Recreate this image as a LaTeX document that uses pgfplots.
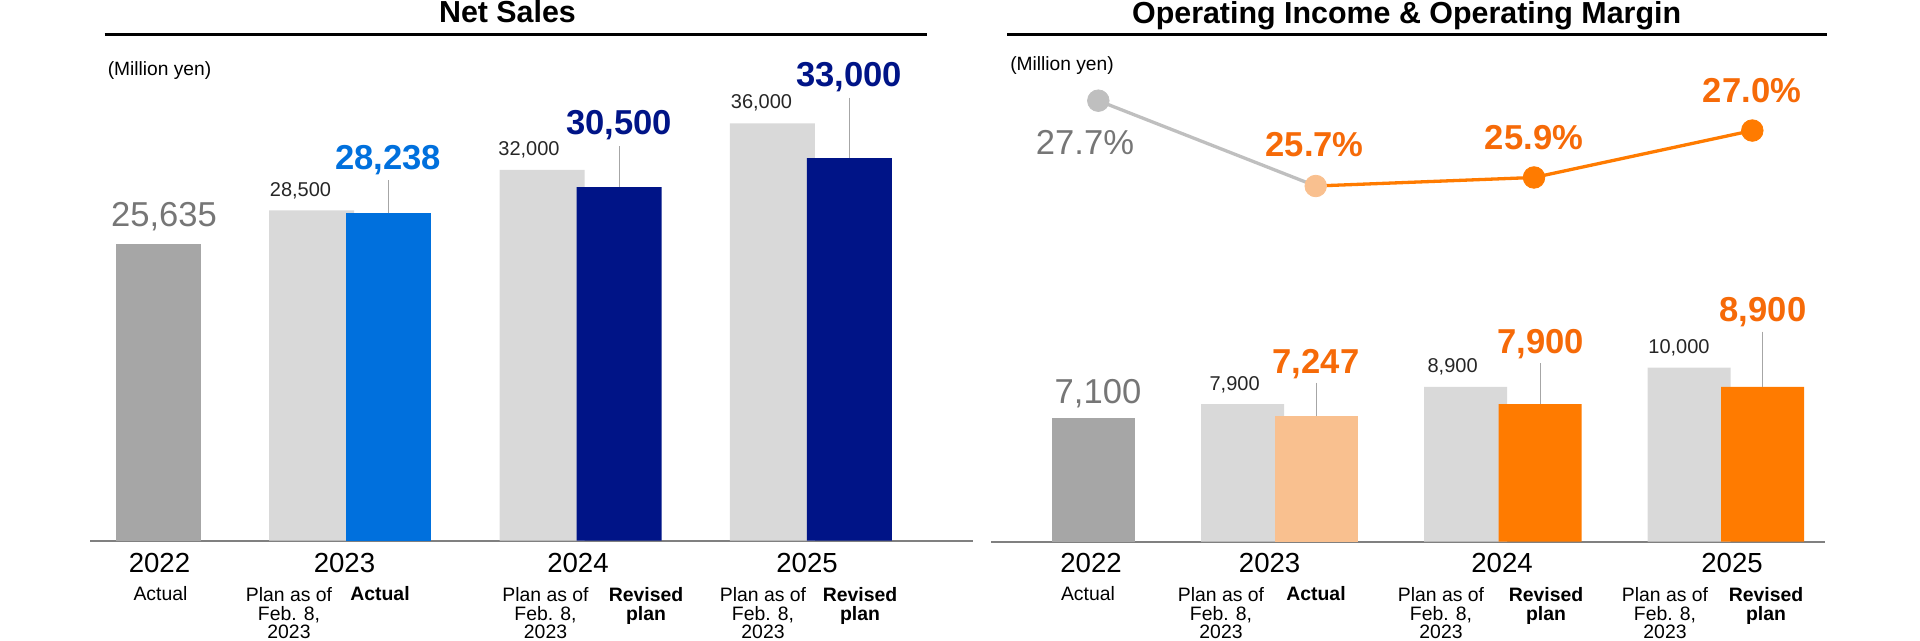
\documentclass[border=0pt]{standalone}
\usepackage{fontspec}
\setmainfont{Liberation Sans}
\usepackage{pgfplots}
\pgfplotsset{compat=1.18}

\definecolor{actgray}{HTML}{A6A6A6}
\definecolor{plangray}{HTML}{D9D9D9}
\definecolor{actblue}{HTML}{0070DD}
\definecolor{navy}{HTML}{001487}
\definecolor{biggray}{HTML}{767676}
\definecolor{smalltxt}{HTML}{262626}
\definecolor{leadgray}{HTML}{A6A6A6}
\definecolor{basegray}{HTML}{808080}
\definecolor{orangebar}{HTML}{FF7B00}
\definecolor{orangetxt}{HTML}{F66A08}
\definecolor{lightorange}{HTML}{F9C08F}
\definecolor{linegray}{HTML}{BFBFBF}

\tikzset{
  bignum/.style={anchor=base, inner sep=0pt, font=\fontsize{17.3}{20}\selectfont},
  bigbold/.style={anchor=base, inner sep=0pt, font=\fontsize{17.3}{20}\selectfont\bfseries},
  plannum/.style={anchor=base, inner sep=0pt, text=smalltxt, font=\fontsize{10}{12}\selectfont},
  year/.style={anchor=base, inner sep=0pt, font=\fontsize{13.8}{16}\selectfont},
  sub/.style={anchor=base, inner sep=0pt, font=\fontsize{9.7}{11}\selectfont},
  subb/.style={anchor=base, inner sep=0pt, font=\fontsize{9.7}{11}\selectfont\bfseries},
  ttl/.style={anchor=base, inner sep=0pt, font=\fontsize{15.2}{18}\selectfont\bfseries},
  unit/.style={anchor=base, inner sep=0pt, font=\fontsize{9.6}{11}\selectfont},
}

\pgfplotsset{
  panel/.style={
    scale only axis, clip=false, anchor=south west,
    axis x line=bottom, axis y line=none,
    x axis line style={-, draw=basegray, line width=1pt},
    xtick=\empty, ytick=\empty, ymin=0,
    ybar, bar shift=0pt,
  },
  leader/.style={
    error bars/.cd, y dir=plus, y explicit, error mark=none,
    error bar style={draw=leadgray, line width=0.5pt},
  },
}

\begin{document}
\begin{tikzpicture}
\path[use as bounding box] (0,0) rectangle (960pt,320.5pt);

% titles
\node[ttl] at (253.75pt,309.15pt) {Net Sales};
\node[ttl] at (703.3pt,308.85pt) {Operating Income \& Operating Margin};
\draw[line width=1.5pt] (52.35pt,303pt) -- (463.7pt,303pt);
\draw[line width=1.5pt] (503.7pt,303pt) -- (913.7pt,303pt);
\node[unit] at (79.75pt,282.5pt) {(Million yen)};
\node[unit] at (531pt,285pt) {(Million yen)};

% ---------- Net Sales ----------
\begin{axis}[panel, at={(45pt,50.15pt)}, width=441.5pt, height=231.84pt,
  xmin=90, xmax=973, ymax=40000, bar width=85]
\addplot[fill=actgray, draw=none] coordinates {(158.4,25635)};
\addplot[fill=plangray, draw=none] coordinates {(311.7,28500) (542,32000) (772.4,36000)};
\addplot[fill=actblue, draw=none, leader] coordinates {(388.9,28238) +- (0,2873)};
\addplot[fill=navy, draw=none, leader] coordinates {(619,30500) +- (0,3537) (849.3,33000) +- (0,5202)};

\node[bignum, text=biggray, yshift=8.4pt] at (axis cs:164,25635) {25,635};
\node[plannum, yshift=6.8pt] at (axis cs:300.5,28500) {28,500};
\node[bigbold, text=actblue, yshift=21.7pt] at (axis cs:388,28238) {28,238};
\node[plannum, yshift=6.9pt] at (axis cs:529,32000) {32,000};
\node[bigbold, text=navy, yshift=26.1pt] at (axis cs:619,30500) {30,500};
\node[plannum, yshift=7.5pt] at (axis cs:761.5,36000) {36,000};
\node[bigbold, text=navy, yshift=35.7pt] at (axis cs:849,33000) {33,000};

\node[year, yshift=-16.15pt] at (axis cs:159.5,0) {2022};
\node[year, yshift=-16.15pt] at (axis cs:344.5,0) {2023};
\node[year, yshift=-16.15pt] at (axis cs:578,0) {2024};
\node[year, yshift=-16.15pt] at (axis cs:807,0) {2025};
\node[sub, yshift=-29.8pt] at (axis cs:160.5,0) {Actual};
\node[sub, yshift=-30.6pt] at (axis cs:289,0) {Plan as of};
\node[sub, yshift=-39.85pt] at (axis cs:289,0) {Feb. 8,};
\node[sub, yshift=-49.1pt] at (axis cs:289,0) {2023};
\node[subb, yshift=-29.8pt] at (axis cs:380,0) {Actual};
\node[sub, yshift=-30.6pt] at (axis cs:545.5,0) {Plan as of};
\node[sub, yshift=-39.85pt] at (axis cs:545.5,0) {Feb. 8,};
\node[sub, yshift=-49.1pt] at (axis cs:545.5,0) {2023};
\node[subb, yshift=-30.6pt] at (axis cs:646,0) {Revised};
\node[subb, yshift=-39.85pt] at (axis cs:646,0) {plan};
\node[sub, yshift=-30.6pt] at (axis cs:763,0) {Plan as of};
\node[sub, yshift=-39.85pt] at (axis cs:763,0) {Feb. 8,};
\node[sub, yshift=-49.1pt] at (axis cs:763,0) {2023};
\node[subb, yshift=-30.6pt] at (axis cs:860,0) {Revised};
\node[subb, yshift=-39.85pt] at (axis cs:860,0) {plan};
\end{axis}

% ---------- Operating Income ----------
\begin{axis}[panel, at={(495.5pt,49.65pt)}, width=417pt, height=234.9pt,
  xmin=991, xmax=1825, ymax=27000, bar width=83]
\addplot[fill=actgray, draw=none] coordinates {(1093,7100)};
\addplot[fill=plangray, draw=none] coordinates {(1242.5,7900) (1465.5,8900) (1689,10000)};
\addplot[fill=lightorange, draw=none, leader] coordinates {(1316,7247) +- (0,1897)};
\addplot[fill=orangebar, draw=none, leader] coordinates {(1540,7900) +- (0,2356) (1762.7,8900) +- (0,3178)};

\node[bignum, text=biggray, yshift=7.4pt] at (axis cs:1098,7100) {7,100};
\node[plannum, yshift=6.8pt] at (axis cs:1234.6,7900) {7,900};
\node[bigbold, text=orangetxt, yshift=21.15pt] at (axis cs:1316,7247) {7,247};
\node[plannum, yshift=7.1pt] at (axis cs:1452.6,8900) {8,900};
\node[bigbold, text=orangetxt, yshift=25.5pt] at (axis cs:1540.6,7900) {7,900};
\node[plannum, yshift=6.85pt] at (axis cs:1679,10000) {10,000};
\node[bigbold, text=orangetxt, yshift=32.6pt] at (axis cs:1763,8900) {8,900};

\node[year, yshift=-15.65pt] at (axis cs:1091,0) {2022};
\node[year, yshift=-15.65pt] at (axis cs:1269.6,0) {2023};
\node[year, yshift=-15.65pt] at (axis cs:1502,0) {2024};
\node[year, yshift=-15.65pt] at (axis cs:1732,0) {2025};
\node[sub, yshift=-29.2pt] at (axis cs:1088,0) {Actual};
\node[sub, yshift=-30pt] at (axis cs:1221,0) {Plan as of};
\node[sub, yshift=-39.25pt] at (axis cs:1221,0) {Feb. 8,};
\node[sub, yshift=-48.5pt] at (axis cs:1221,0) {2023};
\node[subb, yshift=-29.2pt] at (axis cs:1316,0) {Actual};
\node[sub, yshift=-30pt] at (axis cs:1441,0) {Plan as of};
\node[sub, yshift=-39.25pt] at (axis cs:1441,0) {Feb. 8,};
\node[sub, yshift=-48.5pt] at (axis cs:1441,0) {2023};
\node[subb, yshift=-30pt] at (axis cs:1546,0) {Revised};
\node[subb, yshift=-39.25pt] at (axis cs:1546,0) {plan};
\node[sub, yshift=-30pt] at (axis cs:1665,0) {Plan as of};
\node[sub, yshift=-39.25pt] at (axis cs:1665,0) {Feb. 8,};
\node[sub, yshift=-48.5pt] at (axis cs:1665,0) {2023};
\node[subb, yshift=-30pt] at (axis cs:1766,0) {Revised};
\node[subb, yshift=-39.25pt] at (axis cs:1766,0) {plan};
\end{axis}

% ---------- Operating Margin (%) ----------
\begin{axis}[scale only axis, clip=false, anchor=south west, hide axis,
  at={(495.5pt,49.65pt)}, width=417pt, height=234.9pt,
  xmin=991, xmax=1825, ymin=17.363, ymax=28.375]
\addplot[linegray, line width=1.65pt, no marks] coordinates {(1098.3,27.7) (1315.7,25.7)};
\addplot[orangebar, line width=1.65pt, no marks] coordinates {(1315.7,25.7) (1534,25.9) (1752.3,27.0)};
\addplot[color=linegray, only marks, mark=*, mark size=5.4pt, mark options={fill=linegray}] coordinates {(1098.3,27.7)};
\addplot[color=lightorange, only marks, mark=*, mark size=5.4pt, mark options={fill=lightorange}] coordinates {(1315.7,25.7)};
\addplot[color=orangebar, only marks, mark=*, mark size=5.4pt, mark options={fill=orangebar}] coordinates {(1534,25.9) (1752.3,27.0)};

\node[bignum, text=biggray, yshift=-27.15pt] at (axis cs:1085,27.7) {27.7\%};
\node[bigbold, text=orangetxt, yshift=14.65pt] at (axis cs:1314.6,25.7) {25.7\%};
\node[bigbold, text=orangetxt, yshift=13.75pt] at (axis cs:1534,25.9) {25.9\%};
\node[bigbold, text=orangetxt, yshift=13.8pt] at (axis cs:1752,27.0) {27.0\%};
\end{axis}
\end{tikzpicture}
\end{document}
